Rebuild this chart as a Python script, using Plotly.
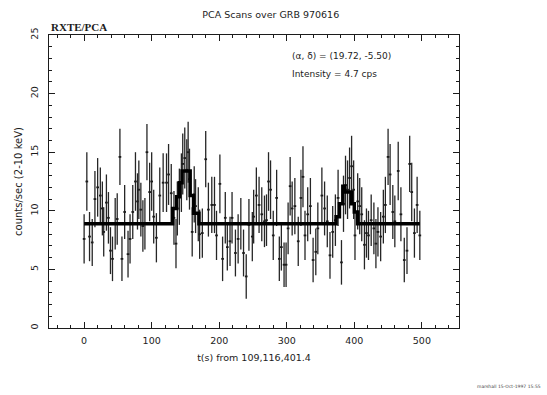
import plotly.graph_objects as go

# ---- data ----
t_sec = [0, 4, 8, 12, 16, 20, 24, 27, 29, 33, 36, 39, 42, 46, 49, 53, 56, 60, 65, 68,
         72, 76, 79, 81, 84, 87, 90, 93, 97, 100, 103, 107, 112, 117, 122,
         125, 129, 133, 136, 138, 141, 144, 146, 149, 152, 154, 156, 160, 163, 165,
         169, 171, 175, 180, 184, 189, 193, 196, 201, 205, 209, 212, 216, 219, 224,
         228, 232, 236, 240, 244, 249,
         251, 255, 259, 263, 267, 270, 273, 276, 280, 285, 289, 292, 296, 299, 302,
         305, 308, 312, 317, 321, 324, 327, 331, 335, 339, 343, 346, 352, 356, 360,
         364, 368, 372, 376,
         381, 384, 387, 390, 393, 396, 399, 401, 405, 408, 411, 415, 418, 421, 425,
         429, 432, 435, 439, 443, 446, 450, 453, 457, 460, 465, 469, 474, 478, 482,
         485, 489, 493, 497]
rate = [7.6, 12.5, 7.8, 7.3, 11.0, 12.0, 11.3, 10.2, 8.2, 10.7, 9.4, 6.6, 5.9, 8.9, 9.3, 14.6, 5.9, 9.9, 6.3, 7.6,
        9.9, 12.5, 10.8, 11.8, 10.1, 8.7, 8.9, 15.0, 11.6, 12.5, 9.5, 7.7, 11.3, 12.4, 12.4,
        13.1, 11.5, 9.4, 7.2, 10.2, 11.2, 12.4, 14.0, 14.5, 13.5, 15.0, 12.7, 8.2, 11.4, 10.4,
        9.7, 8.0, 8.1, 14.4, 10.1, 10.5, 10.5, 7.9, 12.3, 5.9, 9.4, 6.9, 7.4, 9.4, 6.4,
        7.6, 8.9, 6.4, 4.4, 8.8, 7.8,
        9.5, 11.3, 10.5, 9.7, 9.1, 9.2, 12.5, 11.8, 7.9, 11.1, 5.9, 6.9, 5.4, 5.4, 8.5,
        12.1, 10.2, 10.4, 7.4, 11.1, 12.9, 7.9, 9.7, 10.4, 5.8, 6.5, 8.5, 11.3, 10.2, 9.1,
        6.2, 8.2, 9.2, 11.1,
        5.6, 10.6, 12.2, 11.8, 12.8, 13.8, 11.8, 7.9, 10.8, 10.4, 9.7, 7.1, 8.1, 7.9, 9.2,
        8.5, 7.2, 8.2, 7.8, 9.5, 10.5, 14.6, 13.1, 9.9, 9.1, 13.4, 9.7, 5.8, 6.6, 14.0,
        11.6, 8.1, 10.5, 7.9]
rate_err = [2.1, 2.5, 2.1, 2.0, 2.4, 2.5, 2.4, 2.3, 2.1, 2.4, 2.2, 2.0, 1.9, 2.2, 2.2, 2.4, 1.9, 2.3, 2.0, 2.1,
            2.3, 2.5, 2.4, 2.5, 2.3, 2.2, 2.2, 2.4, 2.5, 2.5, 2.3, 2.1, 2.4, 2.5, 2.5,
            2.6, 2.5, 2.3, 2.1, 2.3, 2.4, 2.5, 2.6, 2.6, 2.6, 2.6, 2.6, 2.1, 2.4, 2.3,
            2.3, 2.1, 2.1, 2.4, 2.3, 2.4, 2.4, 2.1, 2.5, 1.9, 2.2, 2.0, 2.1, 2.2, 2.0,
            2.1, 2.2, 2.0, 1.9, 2.2, 2.1,
            2.3, 2.4, 2.4, 2.3, 2.2, 2.2, 2.5, 2.5, 2.1, 2.4, 1.9, 2.0, 1.9, 1.9, 2.2,
            2.5, 2.3, 2.4, 2.1, 2.4, 2.6, 2.1, 2.3, 2.4, 1.9, 2.0, 2.2, 2.4, 2.3, 2.2,
            2.0, 2.2, 2.2, 2.4,
            1.9, 2.4, 2.5, 2.5, 2.6, 2.6, 2.5, 2.1, 2.4, 2.4, 2.3, 2.1, 2.1, 2.1, 2.2,
            2.2, 2.1, 2.1, 2.1, 2.3, 2.4, 2.4, 2.6, 2.3, 2.2, 2.5, 2.3, 1.9, 2.0, 2.4,
            2.5, 2.1, 2.4, 2.1]
bin_half = 2.0

# step model (scan response)
model_t = [0, 131, 137, 141, 145, 157, 162, 170, 373, 378, 383, 386, 396, 400, 405, 411, 497]
model_v = [8.9, 10.2, 11.2, 12.4, 13.4, 11.3, 9.8, 8.9, 9.5, 10.6, 12.1, 11.6, 10.6, 9.9, 8.9, 8.9, 8.9]

x_ticks = [0, 100, 200, 300, 400, 500]
y_ticks = [0, 5, 10, 15, 20, 25]

INK = "#1c1c1c"
FONT = "DejaVu Sans"

fig = go.Figure()
fig.add_trace(go.Scatter(
    x=t_sec, y=rate, mode="markers",
    marker=dict(size=1, color=INK),
    error_y=dict(type="data", array=rate_err, width=0, thickness=1.3, color="#262626"),
    error_x=dict(type="constant", value=bin_half, width=0, thickness=1.8, color=INK),
    showlegend=False, hoverinfo="skip"))
fig.add_trace(go.Scatter(
    x=model_t, y=model_v, mode="lines", line=dict(shape="hv", width=3.5, color="#000000"),
    showlegend=False, hoverinfo="skip"))

axis_common = dict(showgrid=False, zeroline=False, showline=True, linecolor=INK, linewidth=1,
                   mirror="allticks", ticks="inside", tickcolor=INK, tickwidth=1, automargin=False,
                   tickfont=dict(family=FONT, size=9.5, color=INK))
fig.update_xaxes(range=[-52, 555], tickvals=x_ticks, ticklen=6, ticklabelstandoff=4,
                 minor=dict(dtick=20, tick0=0, ticks="inside", ticklen=3, tickcolor=INK),
                 title=dict(text="t(s) from 109,116,401.4", font=dict(family=FONT, size=9.5, color=INK),
                            standoff=8),
                 **axis_common)
fig.update_yaxes(range=[0, 25], tickvals=y_ticks, ticklen=6, tickangle=-90, ticklabelstandoff=6,
                 minor=dict(dtick=1, tick0=0, ticks="inside", ticklen=3, tickcolor=INK),
                 title=dict(text="counts/sec (2-10 keV)", font=dict(family=FONT, size=10, color=INK),
                            standoff=4),
                 **axis_common)

fig.update_layout(
    width=547, height=395,
    margin=dict(l=49, r=88, t=35, b=67),
    paper_bgcolor="white", plot_bgcolor="white",
    title=dict(text="PCA Scans over GRB 970616", x=0.495, xanchor="center", y=0.962, yanchor="middle",
               font=dict(family=FONT, size=9.5, color=INK)),
    annotations=[
        dict(text="<b>RXTE/PCA</b>", xref="paper", yref="paper", x=0.0, y=1.0, xanchor="left",
             yanchor="bottom", showarrow=False, font=dict(family="Liberation Serif", size=11, color=INK)),
        dict(text="(α, δ) = (19.72, -5.50)", xref="paper", yref="paper", x=0.588, y=0.928,
             xanchor="left", yanchor="middle", showarrow=False,
             font=dict(family=FONT, size=9, color=INK)),
        dict(text="Intensity = 4.7 cps", xref="paper", yref="paper", x=0.588, y=0.866,
             xanchor="left", yanchor="middle", showarrow=False,
             font=dict(family=FONT, size=9, color=INK)),
        dict(text="marshall 15-Oct-1997 15:55", xref="paper", yref="paper", x=1.0, xshift=84, y=-0.2,
             xanchor="right", yanchor="middle", showarrow=False,
             font=dict(family=FONT, size=4.5, color="#444444")),
    ],
)

fig.write_html("out.html", config={"displayModeBar": False},
               post_script="document.body.style.margin='0';document.body.style.overflow='hidden';")
